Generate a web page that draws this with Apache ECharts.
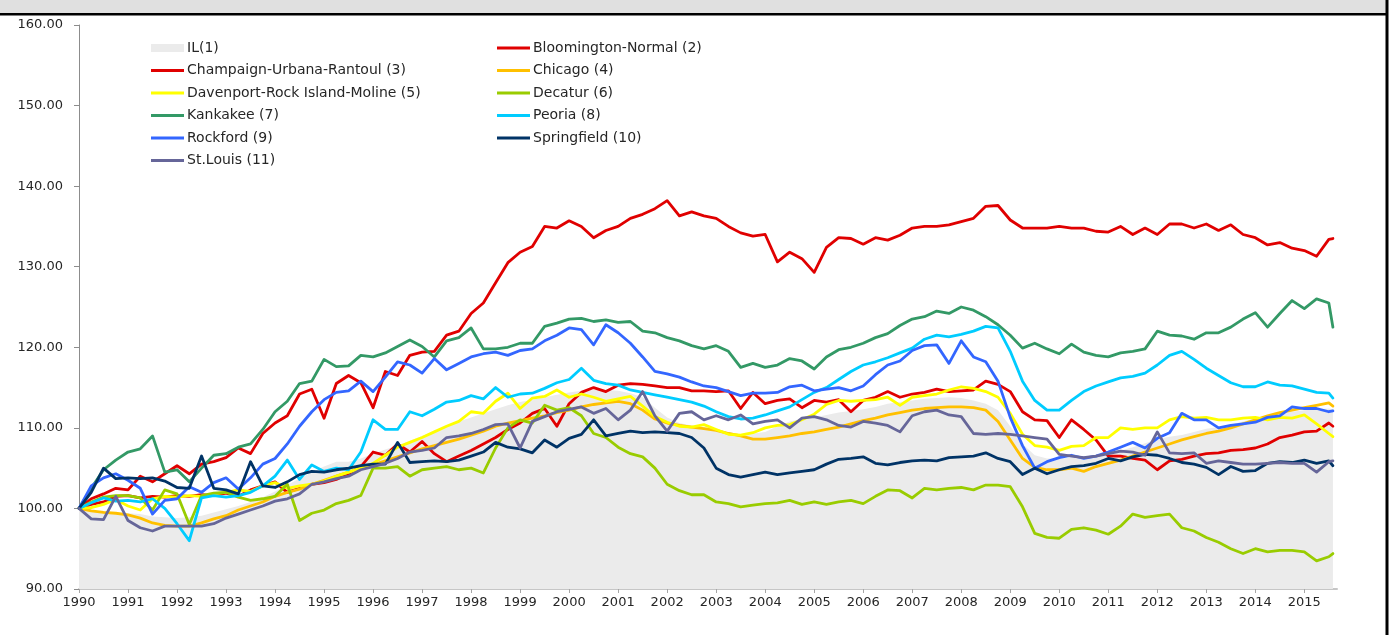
<!DOCTYPE html>
<html><head><meta charset="utf-8">
<script src="https://cdn.jsdelivr.net/npm/echarts@6/dist/echarts.min.js"></script>
<style>html,body{margin:0;padding:0;background:#fff}#c{width:1395px;height:635px}</style>
</head><body><div id="c"></div>
<script>
// monthly categories 1990-01 .. 2015-09
const months = [];
for (let y = 1990; y <= 2015; y++) for (let m = 1; m <= 12; m++) { if (y === 2015 && m > 9) break; months.push(y + '-' + String(m).padStart(2, '0')); }
// sampled months: quarterly Jan/Apr/Jul/Oct from 1990-01 to 2015-07, plus 2015-08
const sampleIdx = [];
for (let i = 0; i <= 306; i += 3) sampleIdx.push(i);
sampleIdx.push(307);

const yTicks = [90, 100, 110, 120, 130, 140, 150, 160];

const il = [
100,99.8,99.6,99.5, 99.4,99.3,99.0,98.9, 98.8,98.9,99.1,99.5, 99.9,100.3,100.8,101.4,
102.1,102.9,103.7,104.5, 105.2,105.8,105.8,106.2, 106.8,107.3,107.8,108.4, 109.0,109.6,110.2,110.8,
111.3,111.8,112.3,112.8, 113.2,113.5,113.8,114.1, 114.4,114.6,114.7,114.7, 114.6,114.3,113.8,112.5,
111.3,110.6,110.3,110.1, 109.9,109.5,109.2,109.3, 109.5,110.2,110.8,111.1, 111.3,111.6,111.9,112.1,
112.3,112.6,113.0,113.2, 113.4,113.6,113.7,113.8, 113.7,113.4,113.0,112.2, 110.2,108.0,106.6,106.2,
106.2,106.3,106.5,106.6, 106.8,107.2,107.6,108.1, 108.6,108.9,109.1,109.5, 109.9,110.1,110.4,110.8,
111.2,111.5,111.8,112.0, 112.2,112.3,112.4,112.3];
const bloomington = [
100,101.2,101.8,102.5, 102.3,104.0,103.3,104.3, 105.3,104.3,105.5,105.8, 106.3,107.5,106.8,109.3,
110.6,111.5,114.2,114.8, 111.2,115.5,116.5,115.6, 112.5,117.0,116.5,119.0, 119.4,119.5,121.5,122.0,
124.2,125.5,128.0,130.5, 131.8,132.5,135.0,134.8, 135.7,135.0,133.6,134.5, 135.0,136.0,136.5,137.2,
138.2,136.3,136.8,136.3, 136.0,135.0,134.2,133.8, 134.0,130.6,131.8,131.0, 129.3,132.4,133.6,133.5,
132.8,133.6,133.3,133.9, 134.8,135.0,135.0,135.2, 135.6,136.0,137.5,137.6, 135.8,134.8,134.8,134.8,
135.0,134.8,134.8,134.4, 134.3,135.0,134.0,134.8, 134.0,135.3,135.3,134.8, 135.3,134.5,135.2,134.0,
133.6,132.7,133.0,132.3, 132.0,131.3,133.4,133.5];
const champaign = [
100,100.5,100.8,101.5, 101.6,101.3,101.5,101.4, 101.6,101.5,101.7,101.6, 101.9,101.5,102.3,102.8,
103.3,102.0,102.5,103.0, 103.2,103.6,104.3,105.2, 107.0,106.6,108.0,107.0, 108.3,106.8,105.8,106.5,
107.2,108.0,108.8,109.8, 110.6,111.8,112.4,110.2, 113.0,114.4,115.0,114.5, 115.3,115.5,115.4,115.2,
115.0,115.0,114.6,114.6, 114.5,114.6,112.4,114.4, 113.0,113.4,113.6,112.5, 113.4,113.2,113.5,112.0,
113.4,113.8,114.5,113.8, 114.2,114.4,114.8,114.5, 114.6,114.7,115.8,115.4, 114.5,112.0,111.0,110.9,
108.8,111.0,109.8,108.5, 106.5,106.5,106.2,106.0, 104.8,105.9,106.1,106.5, 106.8,106.9,107.2,107.3,
107.5,108.0,108.8,109.1, 109.5,109.6,110.6,110.2];
const chicago = [
100,99.7,99.5,99.4, 99.2,98.8,98.2,97.9, 97.8,97.8,98.2,98.7, 99.1,99.8,100.3,100.8,
101.5,102.0,102.4,103.0, 103.5,104.0,104.5,105.0, 105.4,105.9,106.4,106.9, 107.4,107.8,108.2,108.6,
109.1,109.6,110.2,110.6, 110.9,111.2,111.5,111.9, 112.2,112.6,112.9,113.1, 113.3,113.0,112.2,111.1,
110.6,110.3,110.1,109.9, 109.7,109.3,109.0,108.6, 108.6,108.8,109.0,109.3, 109.5,109.8,110.1,110.5,
110.9,111.2,111.6,111.9, 112.2,112.4,112.5,112.6, 112.6,112.5,112.2,110.8, 108.5,106.2,105.1,104.8,
104.8,105.0,104.6,105.2, 105.6,106.0,106.5,107.0, 107.5,108.0,108.5,108.9, 109.3,109.6,110.0,110.5,
111.0,111.5,111.9,112.2, 112.5,112.8,113.1,112.7];
const davenport = [
100,100.1,100.5,101.1, 100.3,99.8,101.2,101.5, 101.4,101.6,101.5,101.8, 102.0,102.3,102.1,102.8,
103.2,102.5,102.8,103.0, 103.4,104.0,104.5,105.0, 105.6,106.6,107.6,108.2, 108.8,109.5,110.2,110.8,
112.0,111.8,113.3,114.3, 112.4,113.7,113.9,114.7, 113.8,114.2,113.8,113.3, 113.6,113.9,112.7,111.4,
110.7,110.2,110.1,110.4, 109.8,109.2,109.1,109.4, 110.0,110.3,110.4,111.0, 111.7,112.9,113.4,113.3,
113.4,113.5,113.8,112.8, 113.8,114.0,114.2,114.7, 115.1,114.9,114.5,113.8, 111.8,109.2,107.8,107.6,
107.2,107.7,107.8,108.8, 108.8,110.0,109.8,110.0, 110.0,111.0,111.4,111.2, 111.3,111.0,111.0,111.2,
111.3,111.0,111.3,111.2, 111.6,110.5,109.3,108.9];
const decatur = [
100,100.8,101.4,101.6, 101.6,101.3,99.8,102.3, 101.8,98.0,101.6,101.9, 102.0,101.4,101.0,101.2,
101.5,103.0,98.5,99.4, 99.8,100.6,101.0,101.6, 105.0,105.0,105.2,104.0, 104.8,105.0,105.2,104.8,
105.0,104.4,107.5,110.0, 111.0,110.6,112.8,112.2, 112.5,111.5,109.3,108.8, 107.6,106.8,106.4,105.0,
103.0,102.2,101.7,101.7, 100.8,100.6,100.2,100.4, 100.6,100.7,101.0,100.5, 100.8,100.5,100.8,101.0,
100.6,101.5,102.3,102.2, 101.3,102.5,102.3,102.5, 102.6,102.3,102.9,102.9, 102.7,100.2,96.9,96.4,
96.3,97.4,97.6,97.3, 96.8,97.8,99.3,98.9, 99.1,99.3,97.6,97.2, 96.4,95.8,95.0,94.4,
95.0,94.6,94.8,94.8, 94.6,93.5,94.0,94.4];
const kankakee = [
100,102.5,104.8,106.0, 107.0,107.4,109.0,104.5, 104.8,103.3,105.0,106.6, 106.8,107.6,108.0,109.8,
112.0,113.3,115.5,115.8, 118.5,117.6,117.7,119.0, 118.8,119.3,120.1,120.9, 120.1,118.8,120.8,121.2,
122.4,119.8,119.8,120.0, 120.5,120.5,122.6,123.0, 123.5,123.6,123.2,123.4, 123.1,123.2,122.0,121.8,
121.2,120.8,120.2,119.8, 120.2,119.5,117.5,118.0, 117.5,117.8,118.6,118.3, 117.3,118.8,119.7,120.0,
120.5,121.2,121.7,122.7, 123.5,123.8,124.5,124.2, 125.0,124.6,123.8,122.8, 121.5,119.9,120.5,119.8,
119.2,120.4,119.4,119.0, 118.8,119.3,119.5,119.8, 122.0,121.5,121.4,121.0, 121.8,121.8,122.5,123.5,
124.3,122.5,124.2,125.8, 124.8,126.0,125.5,122.5];
const peoria = [
100,100.7,101.3,100.9, 101.0,100.8,101.2,100.0, 98.1,96.0,101.3,101.6, 101.4,101.6,102.0,102.8,
104.0,106.0,103.6,105.4, 104.6,105.0,104.8,107.0, 111.0,109.8,109.8,112.0, 111.5,112.3,113.2,113.4,
114.0,113.6,115.0,113.8, 114.2,114.3,114.9,115.6, 116.0,117.4,115.9,115.5, 115.3,114.7,114.4,114.1,
113.8,113.5,113.2,112.7, 112.0,111.4,111.1,111.2, 111.6,112.1,112.6,113.5, 114.4,115.0,116.0,117.0,
117.8,118.2,118.7,119.3, 119.9,121.0,121.5,121.3, 121.6,122.0,122.6,122.4, 119.5,115.8,113.4,112.2,
112.2,113.4,114.5,115.2, 115.7,116.2,116.4,116.8, 117.8,119.0,119.5,118.5, 117.4,116.5,115.6,115.1,
115.1,115.7,115.3,115.2, 114.8,114.4,114.3,113.7];
const rockford = [
100,102.8,103.8,104.3, 103.5,102.5,99.3,101.0, 101.2,102.7,102.0,103.2, 103.8,102.4,103.8,105.5,
106.2,108.0,110.2,112.0, 113.5,114.4,114.6,115.8, 114.5,116.3,118.2,117.8, 116.8,118.6,117.2,118.0,
118.8,119.2,119.4,119.0, 119.6,119.8,120.8,121.5, 122.4,122.2,120.3,122.8, 121.8,120.5,118.8,117.0,
116.7,116.3,115.7,115.2, 115.0,114.5,114.0,114.3, 114.3,114.4,115.1,115.3, 114.6,114.8,115.0,114.6,
115.2,116.6,117.8,118.3, 119.6,120.2,120.3,118.0, 120.8,118.8,118.2,115.8, 111.3,107.8,105.0,105.8,
106.3,106.6,106.2,106.5, 107.0,107.6,108.2,107.5, 108.7,109.4,111.8,111.0, 111.0,110.0,110.3,110.5,
110.7,111.3,111.5,112.6, 112.4,112.4,112.0,112.1];
const springfield = [
100,102.0,105.0,103.7, 103.8,103.7,103.8,103.4, 102.6,102.5,106.5,102.5, 102.3,101.8,105.8,102.8,
102.6,103.3,104.2,104.6, 104.5,104.8,105.0,105.3, 105.5,105.5,108.2,105.7, 105.8,105.9,105.8,106.0,
106.5,107.0,108.2,107.6, 107.4,106.9,108.5,107.6, 108.7,109.2,111.0,109.0, 109.3,109.6,109.4,109.5,
109.4,109.3,108.8,107.5, 105.0,104.2,103.9,104.2, 104.5,104.2,104.4,104.6, 104.8,105.5,106.1,106.2,
106.4,105.6,105.4,105.7, 105.9,106.0,105.9,106.3, 106.4,106.5,106.9,106.2, 105.8,104.2,105.0,104.3,
104.8,105.2,105.3,105.6, 106.2,105.9,106.4,106.7, 106.6,106.2,105.7,105.5, 105.1,104.2,105.2,104.6,
104.7,105.6,105.8,105.7, 106.0,105.6,105.9,105.3];
const stlouis = [
100,98.7,98.6,101.5, 98.5,97.6,97.2,97.8, 97.8,97.8,97.8,98.1, 98.8,99.3,99.8,100.3,
100.9,101.2,101.8,103.0, 103.3,103.7,104.0,104.8, 105.2,105.6,106.2,107.0, 107.2,107.5,108.8,109.0,
109.3,109.8,110.4,110.5, 107.5,110.8,111.4,112.0, 112.3,112.6,111.8,112.4, 111.0,112.2,114.5,111.5,
109.6,111.8,112.0,111.0, 111.5,111.0,111.6,110.5, 110.8,111.0,110.0,111.2, 111.4,111.0,110.3,110.1,
110.8,110.6,110.3,109.5, 111.5,112.0,112.2,111.6, 111.4,109.3,109.2,109.3, 109.2,109.0,108.8,108.6,
106.7,106.5,106.3,106.5, 106.8,107.1,107.0,106.6, 109.5,106.9,106.8,106.9, 105.6,105.9,105.7,105.5,
105.5,105.6,105.7,105.6, 105.6,104.5,105.8,105.9];

const names = ['IL(1)', 'Bloomington-Normal (2)', 'Champaign-Urbana-Rantoul (3)', 'Chicago (4)',
  'Davenport-Rock Island-Moline (5)', 'Decatur (6)', 'Kankakee (7)', 'Peoria (8)', 'Rockford (9)',
  'Springfield (10)', 'St.Louis (11)'];
const colors = ['#ebebeb', '#e00000', '#e00000', '#ffc000', '#ffff00', '#99cc00', '#339966', '#00ccff', '#3366ff', '#003366', '#666699'];
const values = [il, bloomington, champaign, chicago, davenport, decatur, kankakee, peoria, rockford, springfield, stlouis];

const series = values.map((vals, s) => {
  const o = {
    name: names[s], type: 'line', data: sampleIdx.map((ix, i) => [ix, vals[i]]),
    symbol: 'none', showSymbol: false, color: colors[s], silent: true,
    lineStyle: { color: colors[s], width: 2.8, cap: 'round', join: 'round' },
    emphasis: { disabled: true }
  };
  if (s === 0) {
    o.lineStyle = { width: 0, color: colors[0] };
    o.areaStyle = { color: colors[0], opacity: 1, origin: 'start' };
  }
  return o;
});

const lineIcon = 'path://M0,0H33V3H0Z';
const rectIcon = 'path://M0,0H33V8H0Z';
const legendBase = {
  orient: 'vertical', top: 36, itemWidth: 33, itemHeight: 14, itemGap: 8.5,
  selectedMode: false,
  textStyle: { fontFamily: 'DejaVu Sans', fontSize: 14, color: '#262626', lineHeight: 14, padding: [0, 0, 0, -2] }
};
const col1 = [0, 2, 4, 6, 8, 10], col2 = [1, 3, 5, 7, 9];

const chart = echarts.init(document.getElementById('c'), null, { renderer: 'canvas' });
chart.setOption({
  animation: false,
  backgroundColor: '#ffffff',
  grid: { left: 79, right: 58, top: 25, bottom: 46, containLabel: false },
  legend: [
    Object.assign({}, legendBase, { left: 146, data: col1.map(i => ({ name: names[i], icon: i === 0 ? rectIcon : lineIcon })) }),
    Object.assign({}, legendBase, { left: 492, data: col2.map(i => ({ name: names[i], icon: lineIcon })) })
  ],
  xAxis: {
    type: 'category', data: months, boundaryGap: false,
    axisLine: { lineStyle: { color: '#c6c6c6', width: 2 } },
    axisTick: { interval: (i) => i % 12 === 0, length: 4, lineStyle: { color: '#a6a6a6', width: 1 } },
    axisLabel: { interval: (i) => i % 12 === 0, formatter: (v) => v.slice(0, 4), margin: 7,
      fontFamily: 'DejaVu Sans', fontSize: 13, color: '#262626' },
    splitLine: { show: false }
  },
  yAxis: {
    type: 'value', min: yTicks[0], max: yTicks[yTicks.length - 1], interval: 10,
    axisLine: { show: true, lineStyle: { color: '#8c8c8c', width: 1 } },
    axisTick: { show: true, length: 5, lineStyle: { color: '#8c8c8c' } },
    axisLabel: { formatter: (v) => v.toFixed(2), margin: 16, fontFamily: 'DejaVu Sans', fontSize: 13, color: '#262626' },
    splitLine: { show: false }
  },
  graphic: [
    { type: 'rect', shape: { x: 0, y: 0, width: 1386, height: 13 }, style: { fill: '#e0e0e0' }, z: 100, silent: true },
    { type: 'rect', shape: { x: 0, y: 13, width: 1388, height: 2.5 }, style: { fill: '#000000' }, z: 101, silent: true },
    { type: 'rect', shape: { x: 1385.5, y: 0, width: 3, height: 635 }, style: { fill: '#000000' }, z: 101, silent: true }
  ],
  series: series
});
</script></body></html>
